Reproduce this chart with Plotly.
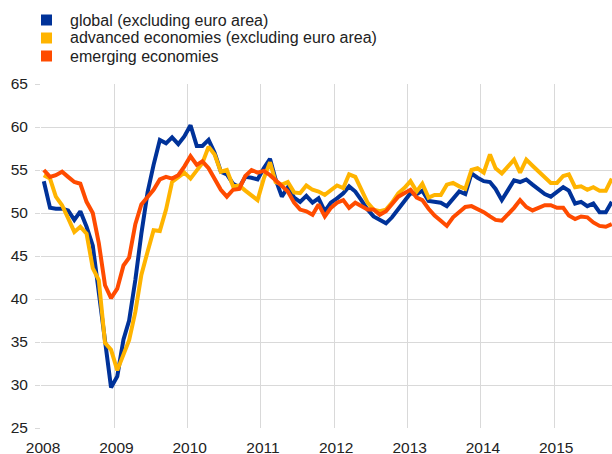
import pandas as pd
import plotly.graph_objects as go

months = pd.date_range("2008-01-01", periods=94, freq="MS") + pd.Timedelta(days=14)

global_ex_ea = [53.7, 50.6, 50.5, 50.5, 50.3, 49.2, 50.2, 48.4, 46.2, 41.0, 34.8, 29.7,
                31.0, 35.3, 37.5, 42.2, 47.6, 52.4, 55.6, 58.5, 58.1, 58.8, 58.0, 58.9,
                60.2, 57.8, 57.8, 58.5, 57.0, 54.8, 54.5, 53.4, 53.0, 54.2, 54.1, 53.9,
                55.2, 56.3, 53.9, 51.9, 53.0, 51.8, 51.3, 52.0, 51.2, 51.7, 50.2, 51.2,
                51.7, 52.3, 53.1, 52.5, 51.5, 50.4, 49.6, 49.2, 48.8, 49.5, 50.4, 51.3,
                52.3, 52.2, 52.6, 51.4, 51.3, 51.2, 50.8, 51.6, 52.5, 52.2, 54.6, 54.1,
                53.7, 53.6, 52.8, 51.5, 52.6, 53.8, 53.6, 53.9, 53.3, 52.8, 52.2, 51.9,
                52.5, 53.0, 52.6, 51.1, 51.3, 50.8, 51.1, 50.1, 50.1, 51.3]

advanced_ex_ea = [54.4, 54.0, 51.9, 50.9, 49.4, 47.8, 48.4, 47.6, 43.6, 42.2, 34.9, 34.1,
                  31.7, 33.5, 35.2, 38.5, 42.8, 45.5, 48.0, 47.9, 50.4, 53.6, 54.2, 54.7,
                  54.0, 54.9, 55.8, 57.7, 56.8, 54.8, 55.0, 53.1, 53.2, 52.6, 52.1, 51.5,
                  54.0, 55.9, 53.6, 53.3, 53.6, 52.4, 52.3, 53.2, 52.7, 52.5, 52.1, 52.7,
                  53.2, 52.9, 54.5, 54.2, 52.7, 51.2, 50.4, 50.2, 50.4, 51.2, 52.3, 52.9,
                  53.7, 52.5, 53.4, 51.8, 52.1, 52.1, 53.3, 53.5, 53.1, 52.8, 55.0, 55.2,
                  54.7, 56.8, 55.2, 54.6, 55.4, 56.2, 54.7, 56.2, 55.5, 54.8, 54.1, 53.5,
                  53.5, 54.3, 54.5, 53.0, 53.1, 52.7, 53.0, 52.6, 52.6, 54.0]

emerging = [55.0, 54.2, 54.4, 54.8, 54.2, 53.6, 53.4, 51.3, 50.0, 46.5, 41.6, 40.1,
            41.2, 43.9, 44.8, 48.7, 51.0, 51.8, 52.7, 53.9, 54.2, 54.0, 54.4, 55.4,
            56.6, 55.6, 56.0, 55.2, 54.0, 52.7, 51.9, 52.7, 52.8, 54.3, 55.0, 54.7,
            54.9, 54.4, 53.8, 53.2, 52.5, 51.2, 50.4, 50.2, 49.8, 51.0, 49.6, 50.6,
            51.2, 51.5, 50.6, 51.2, 50.8, 50.4, 50.4, 49.8, 50.2, 51.0, 51.9, 52.3,
            52.7, 51.8, 51.5, 50.5, 49.7, 49.1, 48.5, 49.5, 50.1, 50.7, 50.8, 50.5,
            50.1, 49.6, 49.2, 49.1, 49.8, 50.6, 51.5, 50.7, 50.3, 50.6, 50.9, 50.9,
            50.6, 50.6, 49.7, 49.3, 49.6, 49.5, 48.9, 48.5, 48.4, 48.7]

series_names = ["global (excluding euro area)",
                "advanced economies (excluding euro area)",
                "emerging economies"]
series_values = [global_ex_ea, advanced_ex_ea, emerging]
colors = ["#003299", "#FFB400", "#FF4B00"]

year_ticks = [f"{y}-01-01" for y in range(2008, 2016)]
year_labels = [str(y) for y in range(2008, 2016)]
y_ticks = [25, 30, 35, 40, 45, 50, 55, 60, 65]

W, H = 612, 454
ML, MR, MT, MB = 41, 0, 84, 26
PW, PH = W - ML - MR, H - MT - MB

fig = go.Figure()
for name, vals, col in zip(series_names, series_values, colors):
    fig.add_trace(go.Scatter(x=months, y=vals, mode="lines", name=name,
                             line=dict(color=col, width=4), showlegend=False,
                             hoverinfo="skip"))

font = "Liberation Sans, Arial, sans-serif"

# legend drawn as squares + text above the plot
row_centers_px = [20, 38, 56]  # figure pixels from top
sq = 11
for name, col, cy in zip(series_names, colors, row_centers_px):
    y0 = 1 + (MT - (cy + sq / 2)) / PH
    y1 = 1 + (MT - (cy - sq / 2)) / PH
    fig.add_shape(type="rect", xref="paper", yref="paper",
                  x0=0, x1=sq / PW, y0=y0, y1=y1,
                  fillcolor=col, line=dict(width=0))
    fig.add_annotation(xref="paper", yref="paper",
                       x=(68 - ML) / PW, y=1 + (MT - cy) / PH,
                       xanchor="left", yanchor="middle", showarrow=False,
                       text=name, font=dict(family=font, size=16, color="#222222"))

fig.update_layout(
    width=W, height=H,
    margin=dict(l=ML, r=MR, t=MT, b=MB, autoexpand=False),
    paper_bgcolor="white", plot_bgcolor="white",
    font=dict(family=font, size=15.5, color="#222222"),
    showlegend=False,
    hovermode=False,
    xaxis=dict(type="date", range=["2008-01-01", "2015-10-16"],
               tickvals=year_ticks, ticktext=year_labels, tickangle=0,
               showgrid=True, gridcolor="#d9d9d9", gridwidth=1,
               zeroline=False, showline=False, ticks="", ticklabelstandoff=8,
               ticklabelshift=2,
               tickfont=dict(size=15.5, color="#222222")),
    yaxis=dict(range=[25, 65], tickvals=y_ticks,
               showgrid=True, gridcolor="#d9d9d9", gridwidth=1,
               zeroline=False, showline=False, ticks="outside", ticklen=5,
               tickcolor="#d9d9d9", ticklabelstandoff=4,
               tickfont=dict(size=15.5, color="#222222")),
)

fig.write_html("out.html",
               config={"displayModeBar": False, "staticPlot": True},
               post_script="document.body.style.margin='0';"
                           "document.body.style.overflow='hidden';")
